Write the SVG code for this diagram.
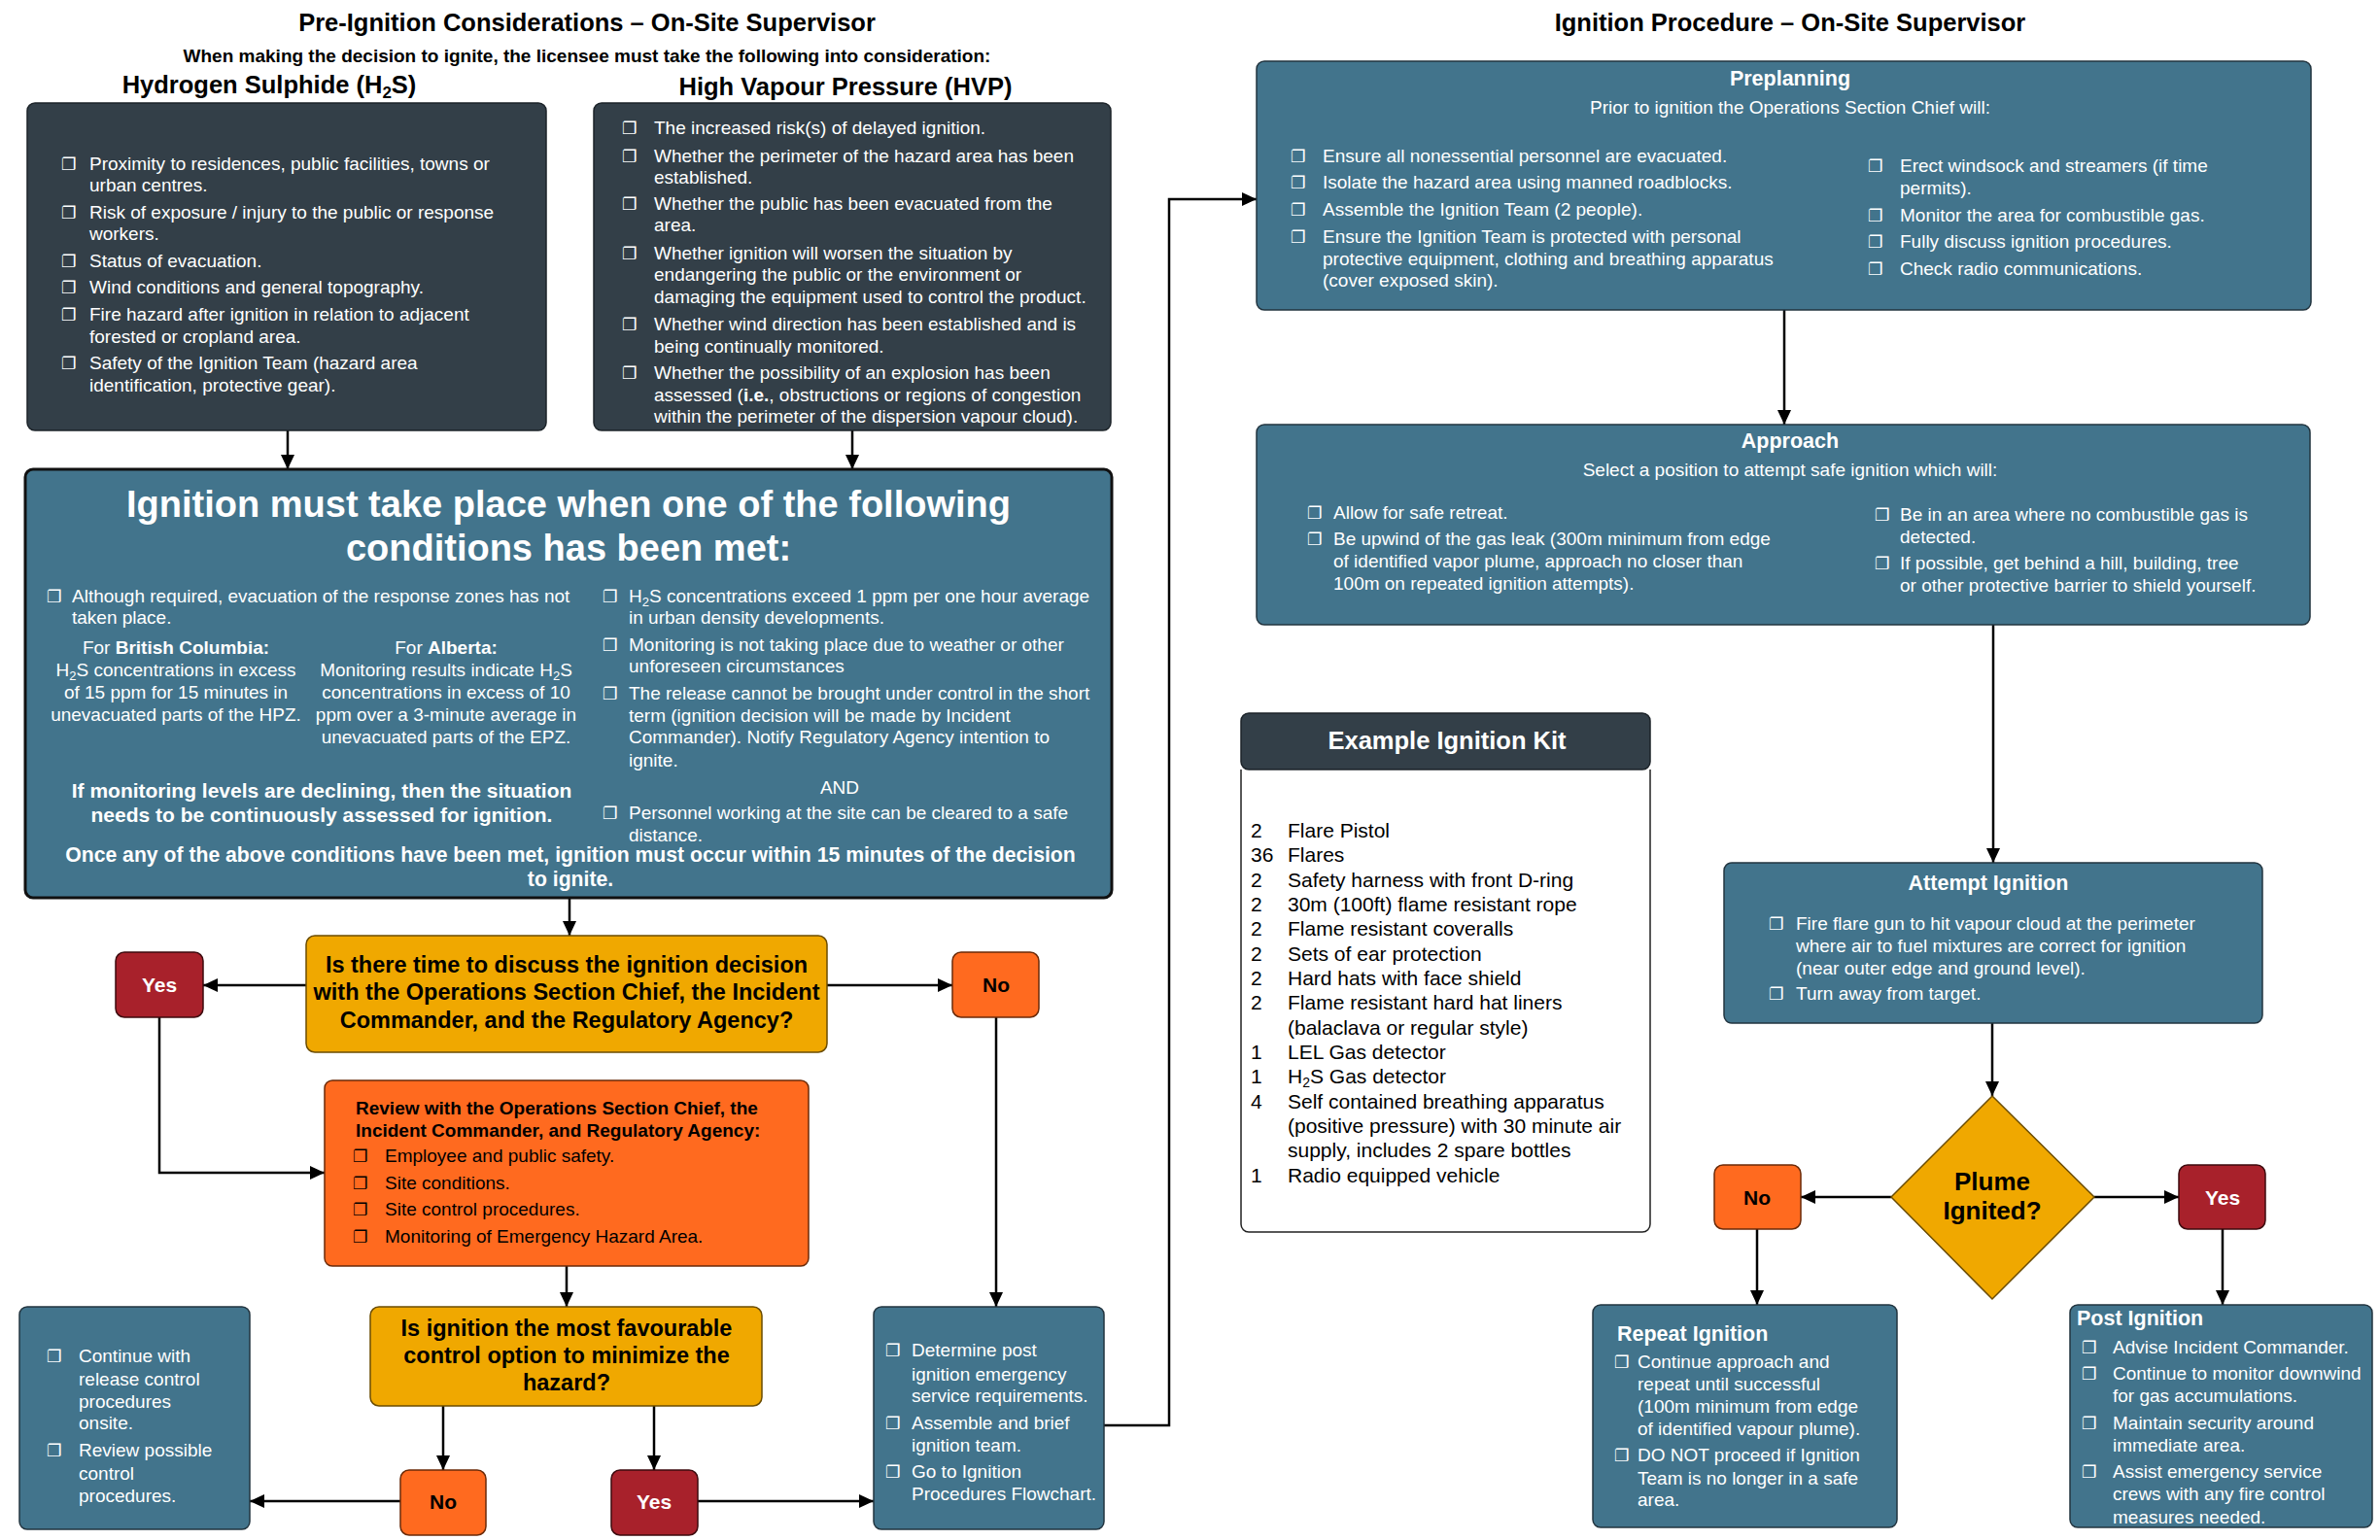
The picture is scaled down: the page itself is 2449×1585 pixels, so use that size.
<svg xmlns="http://www.w3.org/2000/svg" width="2449" height="1585" viewBox="0 0 2449 1585">
<style>
text { font-family: "Liberation Sans", Arial, sans-serif; font-size: 19px; fill: #000; }
.b { font-weight: bold; }
.w { fill: #fff; }
.m { text-anchor: middle; }
text.cb { font-family: "DejaVu Sans", sans-serif; font-size: 17px; }
text.title { font-size: 25.5px; font-weight: bold; }
text.head { font-size: 38px; font-weight: bold; }
text.b21 { font-size: 21px; font-weight: bold; }
text.once { font-size: 21.2px; font-weight: bold; }
text.plume { font-size: 26px; font-weight: bold; }
text.sh { font-size: 21.5px; font-weight: bold; }
text.dec { font-size: 23.5px; font-weight: bold; }
text.yn { font-size: 21px; font-weight: bold; }
text.kit { font-size: 21px; }
.dark { fill: #333f48; stroke: #1c2329; stroke-width: 1.5; }
.blue { fill: #42748c; stroke: #22343f; stroke-width: 1.5; }
.yel { fill: #f0a800; stroke: #6b4c00; stroke-width: 1.5; }
.ora { fill: #ff6a1f; stroke: #6b2a08; stroke-width: 1.5; }
.red { fill: #a8212b; stroke: #3d0a0e; stroke-width: 1.5; }
.c { fill: none; stroke: #000; stroke-width: 2.5; marker-end: url(#ah); }
</style>
<defs>
<marker id="ah" markerUnits="userSpaceOnUse" markerWidth="16" markerHeight="14" refX="15" refY="7" orient="auto">
<path d="M0,0 L15,7 L0,14 z" fill="#000"/>
</marker>
</defs>
<rect width="2449" height="1585" fill="#fff"/>

<g id="titles">
<text class="title m" x="604" y="32">Pre-Ignition Considerations – On-Site Supervisor</text>
<text class="b m" x="604" y="64">When making the decision to ignite, the licensee must take the following into consideration:</text>
<text class="title m" x="277" y="96">Hydrogen Sulphide (H<tspan font-size="17" dy="5">2</tspan><tspan dy="-5">S)</tspan></text>
<text class="title m" x="870" y="98">High Vapour Pressure (HVP)</text>
<text class="title m" x="1842" y="32">Ignition Procedure – On-Site Supervisor</text>
</g>

<g id="connectors">
<path class="c" d="M296,443 V483"/>
<path class="c" d="M877,443 V483"/>
<path class="c" d="M586,924 V963"/>
<path class="c" d="M315,1014 H209"/>
<path class="c" d="M851,1014 H980"/>
<path class="c" d="M164,1047 V1207 H334"/>
<path class="c" d="M1025,1047 V1345"/>
<path class="c" d="M583,1303 V1345"/>
<path class="c" d="M456,1447 V1513"/>
<path class="c" d="M673,1447 V1513"/>
<path class="c" d="M412,1545 H257"/>
<path class="c" d="M718,1545 H899"/>
<path class="c" d="M1136,1467 H1203 V205 H1293"/>
<path class="c" d="M1836,319 V437"/>
<path class="c" d="M2051,643 V888"/>
<path class="c" d="M2050,1053 V1128"/>
<path class="c" d="M1946,1232 H1853"/>
<path class="c" d="M2155,1232 H2242"/>
<path class="c" d="M1808,1265 V1343"/>
<path class="c" d="M2287,1265 V1343"/>
</g>

<g id="h2s-box">
<rect class="dark" x="28" y="106" width="534" height="337" rx="8"/>
<text class="cb w" x="63" y="175">❐</text>
<text class="w" x="92" y="175">Proximity to residences, public facilities, towns or</text>
<text class="w" x="92" y="197">urban centres.</text>
<text class="cb w" x="63" y="225">❐</text>
<text class="w" x="92" y="225">Risk of exposure / injury to the public or response</text>
<text class="w" x="92" y="247">workers.</text>
<text class="cb w" x="63" y="275">❐</text>
<text class="w" x="92" y="275">Status of evacuation.</text>
<text class="cb w" x="63" y="302">❐</text>
<text class="w" x="92" y="302">Wind conditions and general topography.</text>
<text class="cb w" x="63" y="330">❐</text>
<text class="w" x="92" y="330">Fire hazard after ignition in relation to adjacent</text>
<text class="w" x="92" y="353">forested or cropland area.</text>
<text class="cb w" x="63" y="380">❐</text>
<text class="w" x="92" y="380">Safety of the Ignition Team (hazard area</text>
<text class="w" x="92" y="403">identification, protective gear).</text>
</g>

<g id="hvp-box">
<rect class="dark" x="611" y="106" width="532" height="337" rx="8"/>
<text class="cb w" x="640" y="138">❐</text>
<text class="w" x="673" y="138">The increased risk(s) of delayed ignition.</text>
<text class="cb w" x="640" y="167">❐</text>
<text class="w" x="673" y="167">Whether the perimeter of the hazard area has been</text>
<text class="w" x="673" y="189">established.</text>
<text class="cb w" x="640" y="216">❐</text>
<text class="w" x="673" y="216">Whether the public has been evacuated from the</text>
<text class="w" x="673" y="238">area.</text>
<text class="cb w" x="640" y="267">❐</text>
<text class="w" x="673" y="267">Whether ignition will worsen the situation by</text>
<text class="w" x="673" y="289">endangering the public or the environment or</text>
<text class="w" x="673" y="312">damaging the equipment used to control the product.</text>
<text class="cb w" x="640" y="340">❐</text>
<text class="w" x="673" y="340">Whether wind direction has been established and is</text>
<text class="w" x="673" y="363">being continually monitored.</text>
<text class="cb w" x="640" y="390">❐</text>
<text class="w" x="673" y="390">Whether the possibility of an explosion has been</text>
<text class="w" x="673" y="413">assessed (<tspan font-weight="bold">i.e.</tspan>, obstructions or regions of congestion</text>
<text class="w" x="673" y="435">within the perimeter of the dispersion vapour cloud).</text>
</g>

<g id="conditions-box">
<rect x="26" y="483" width="1118" height="441" rx="8" fill="#42748c" stroke="#111" stroke-width="3"/>
<text class="head w m" x="585" y="532">Ignition must take place when one of the following</text>
<text class="head w m" x="585" y="577">conditions has been met:</text>
<text class="cb w" x="48" y="620">❐</text>
<text class="w" x="74" y="620">Although required, evacuation of the response zones has not</text>
<text class="w" x="74" y="642">taken place.</text>
<text class="w m" x="181" y="673">For <tspan font-weight="bold">British Columbia:</tspan></text>
<text class="w m" x="181" y="696">H<tspan font-size="13" dy="4">2</tspan><tspan dy="-4">S concentrations in excess</tspan></text>
<text class="w m" x="181" y="719">of 15 ppm for 15 minutes in</text>
<text class="w m" x="181" y="742">unevacuated parts of the HPZ.</text>
<text class="w m" x="459" y="673">For <tspan font-weight="bold">Alberta:</tspan></text>
<text class="w m" x="459" y="696">Monitoring results indicate H<tspan font-size="13" dy="4">2</tspan><tspan dy="-4">S</tspan></text>
<text class="w m" x="459" y="719">concentrations in excess of 10</text>
<text class="w m" x="459" y="742">ppm over a 3-minute average in</text>
<text class="w m" x="459" y="765">unevacuated parts of the EPZ.</text>
<text class="b21 w m" x="331" y="821">If monitoring levels are declining, then the situation</text>
<text class="b21 w m" x="331" y="846">needs  to be continuously assessed for ignition.</text>
<text class="cb w" x="620" y="620">❐</text>
<text class="w" x="647" y="620">H<tspan font-size="13" dy="4">2</tspan><tspan dy="-4">S concentrations exceed 1 ppm per one hour average</tspan></text>
<text class="w" x="647" y="642">in urban density developments.</text>
<text class="cb w" x="620" y="670">❐</text>
<text class="w" x="647" y="670">Monitoring is not taking place due to weather or other</text>
<text class="w" x="647" y="692">unforeseen circumstances</text>
<text class="cb w" x="620" y="720">❐</text>
<text class="w" x="647" y="720">The release cannot be brought under control in the short</text>
<text class="w" x="647" y="743">term (ignition decision will be made by Incident</text>
<text class="w" x="647" y="765">Commander). Notify Regulatory Agency intention to</text>
<text class="w" x="647" y="789">ignite.</text>
<text class="w m" x="864" y="817">AND</text>
<text class="cb w" x="620" y="843">❐</text>
<text class="w" x="647" y="843">Personnel working at the site can be cleared to a safe</text>
<text class="w" x="647" y="866">distance.</text>
<text class="once w m" x="587" y="887">Once any of the above conditions have been met, ignition must occur within 15 minutes of the decision</text>
<text class="once w m" x="587" y="912">to ignite.</text>
</g>

<g id="decision-discuss">
<rect class="yel" x="315" y="963" width="536" height="120" rx="9"/>
<text class="dec m" x="583" y="1001">Is there time to discuss the ignition decision</text>
<text class="dec m" x="583" y="1029">with the Operations Section Chief, the Incident</text>
<text class="dec m" x="583" y="1058">Commander, and the Regulatory Agency?</text>
</g>

<g id="yes-1">
<rect class="red" x="119" y="980" width="90" height="67" rx="9"/>
<text class="yn w m" x="164" y="1021">Yes</text>
</g>

<g id="no-1">
<rect class="ora" x="980" y="980" width="89" height="67" rx="9"/>
<text class="yn m" x="1025" y="1021">No</text>
</g>

<g id="review-box">
<rect class="ora" x="334" y="1112" width="498" height="191" rx="8"/>
<text class="b" x="366" y="1147">Review with the Operations Section Chief, the</text>
<text class="b" x="366" y="1170">Incident Commander, and Regulatory Agency:</text>
<text class="cb" x="363" y="1196">❐</text>
<text x="396" y="1196">Employee and public safety.</text>
<text class="cb" x="363" y="1224">❐</text>
<text x="396" y="1224">Site conditions.</text>
<text class="cb" x="363" y="1251">❐</text>
<text x="396" y="1251">Site control procedures.</text>
<text class="cb" x="363" y="1279">❐</text>
<text x="396" y="1279">Monitoring of Emergency Hazard Area.</text>
</g>

<g id="decision-favourable">
<rect class="yel" x="381" y="1345" width="403" height="102" rx="9"/>
<text class="dec m" x="583" y="1375">Is ignition the most favourable</text>
<text class="dec m" x="583" y="1403">control option to minimize the</text>
<text class="dec m" x="583" y="1431">hazard?</text>
</g>

<g id="no-2">
<rect class="ora" x="412" y="1513" width="88" height="67" rx="9"/>
<text class="yn m" x="456" y="1553">No</text>
</g>

<g id="yes-2">
<rect class="red" x="629" y="1513" width="89" height="67" rx="9"/>
<text class="yn w m" x="673" y="1553">Yes</text>
</g>

<g id="continue-box">
<rect class="blue" x="20" y="1345" width="237" height="229" rx="8"/>
<text class="cb w" x="48" y="1402">❐</text>
<text class="w" x="81" y="1402">Continue with</text>
<text class="w" x="81" y="1426">release control</text>
<text class="w" x="81" y="1449">procedures</text>
<text class="w" x="81" y="1471">onsite.</text>
<text class="cb w" x="48" y="1499">❐</text>
<text class="w" x="81" y="1499">Review possible</text>
<text class="w" x="81" y="1523">control</text>
<text class="w" x="81" y="1546">procedures.</text>
</g>

<g id="determine-box">
<rect class="blue" x="899" y="1345" width="237" height="229" rx="8"/>
<text class="cb w" x="911" y="1396">❐</text>
<text class="w" x="938" y="1396">Determine post</text>
<text class="w" x="938" y="1421">ignition emergency</text>
<text class="w" x="938" y="1443">service requirements.</text>
<text class="cb w" x="911" y="1471">❐</text>
<text class="w" x="938" y="1471">Assemble and brief</text>
<text class="w" x="938" y="1494">ignition team.</text>
<text class="cb w" x="911" y="1521">❐</text>
<text class="w" x="938" y="1521">Go to Ignition</text>
<text class="w" x="938" y="1544">Procedures Flowchart.</text>
</g>

<g id="preplanning">
<rect class="blue" x="1293" y="63" width="1085" height="256" rx="8"/>
<text class="sh w m" x="1842" y="88">Preplanning</text>
<text class="w m" x="1842" y="117">Prior to ignition the Operations Section Chief will:</text>
<text class="cb w" x="1328" y="167">❐</text>
<text class="w" x="1361" y="167">Ensure all nonessential personnel are evacuated.</text>
<text class="cb w" x="1328" y="194">❐</text>
<text class="w" x="1361" y="194">Isolate the hazard area using manned roadblocks.</text>
<text class="cb w" x="1328" y="222">❐</text>
<text class="w" x="1361" y="222">Assemble the Ignition Team (2 people).</text>
<text class="cb w" x="1328" y="250">❐</text>
<text class="w" x="1361" y="250">Ensure the Ignition Team is protected with personal</text>
<text class="w" x="1361" y="273">protective equipment, clothing and breathing apparatus</text>
<text class="w" x="1361" y="295">(cover exposed skin).</text>
<text class="cb w" x="1922" y="177">❐</text>
<text class="w" x="1955" y="177">Erect windsock and streamers (if time</text>
<text class="w" x="1955" y="200">permits).</text>
<text class="cb w" x="1922" y="228">❐</text>
<text class="w" x="1955" y="228">Monitor the area for combustible gas.</text>
<text class="cb w" x="1922" y="255">❐</text>
<text class="w" x="1955" y="255">Fully discuss ignition procedures.</text>
<text class="cb w" x="1922" y="283">❐</text>
<text class="w" x="1955" y="283">Check radio communications.</text>
</g>

<g id="approach">
<rect class="blue" x="1293" y="437" width="1084" height="206" rx="8"/>
<text class="sh w m" x="1842" y="461">Approach</text>
<text class="w m" x="1842" y="490">Select a position to attempt safe ignition which will:</text>
<text class="cb w" x="1345" y="534">❐</text>
<text class="w" x="1372" y="534">Allow for safe retreat.</text>
<text class="cb w" x="1345" y="561">❐</text>
<text class="w" x="1372" y="561">Be upwind of the gas leak (300m minimum from edge</text>
<text class="w" x="1372" y="584">of identified vapor plume, approach no closer than</text>
<text class="w" x="1372" y="607">100m on repeated ignition attempts).</text>
<text class="cb w" x="1929" y="536">❐</text>
<text class="w" x="1955" y="536">Be in an area where no combustible gas is</text>
<text class="w" x="1955" y="559">detected.</text>
<text class="cb w" x="1929" y="586">❐</text>
<text class="w" x="1955" y="586">If possible, get behind a hill, building, tree</text>
<text class="w" x="1955" y="609">or other protective barrier to shield yourself.</text>
</g>

<g id="ignition-kit">
<path d="M1277,792 V1260 a8,8 0 0 0 8,8 H1690 a8,8 0 0 0 8,-8 V792" fill="#fff" stroke="#222" stroke-width="1.5"/>
<rect class="dark" x="1277" y="734" width="421" height="58" rx="8"/>
<text class="title w m" x="1489" y="771">Example Ignition Kit</text>
<text class="kit" x="1287" y="862">2</text><text class="kit" x="1325" y="862">Flare Pistol</text>
<text class="kit" x="1287" y="887">36</text><text class="kit" x="1325" y="887">Flares</text>
<text class="kit" x="1287" y="913">2</text><text class="kit" x="1325" y="913">Safety harness with front D-ring</text>
<text class="kit" x="1287" y="938">2</text><text class="kit" x="1325" y="938">30m (100ft) flame resistant rope</text>
<text class="kit" x="1287" y="963">2</text><text class="kit" x="1325" y="963">Flame resistant coveralls</text>
<text class="kit" x="1287" y="989">2</text><text class="kit" x="1325" y="989">Sets of ear protection</text>
<text class="kit" x="1287" y="1014">2</text><text class="kit" x="1325" y="1014">Hard hats with face shield</text>
<text class="kit" x="1287" y="1039">2</text><text class="kit" x="1325" y="1039">Flame resistant hard hat liners</text>
<text class="kit" x="1325" y="1065">(balaclava or regular style)</text>
<text class="kit" x="1287" y="1090">1</text><text class="kit" x="1325" y="1090">LEL Gas detector</text>
<text class="kit" x="1287" y="1115">1</text><text class="kit" x="1325" y="1115">H<tspan font-size="14" dy="4">2</tspan><tspan dy="-4">S Gas detector</tspan></text>
<text class="kit" x="1287" y="1141">4</text><text class="kit" x="1325" y="1141">Self contained breathing apparatus</text>
<text class="kit" x="1325" y="1166">(positive pressure) with 30 minute air</text>
<text class="kit" x="1325" y="1191">supply, includes 2 spare bottles</text>
<text class="kit" x="1287" y="1217">1</text><text class="kit" x="1325" y="1217">Radio equipped vehicle</text>
</g>

<g id="attempt-ignition">
<rect class="blue" x="1774" y="888" width="554" height="165" rx="8"/>
<text class="sh w m" x="2046" y="916">Attempt Ignition</text>
<text class="cb w" x="1820" y="957">❐</text>
<text class="w" x="1848" y="957">Fire flare gun to hit vapour cloud at the perimeter</text>
<text class="w" x="1848" y="980">where air to fuel mixtures are correct for ignition</text>
<text class="w" x="1848" y="1003">(near outer edge and ground level).</text>
<text class="cb w" x="1820" y="1029">❐</text>
<text class="w" x="1848" y="1029">Turn away from target.</text>
</g>

<g id="plume-ignited">
<polygon class="yel" points="2050,1128 2155,1232 2050,1337 1946,1232"/>
<text class="plume m" x="2050" y="1225">Plume</text>
<text class="plume m" x="2050" y="1255">Ignited?</text>
</g>

<g id="no-3">
<rect class="ora" x="1764" y="1199" width="89" height="66" rx="9"/>
<text class="yn m" x="1808" y="1240">No</text>
</g>

<g id="yes-3">
<rect class="red" x="2242" y="1199" width="89" height="66" rx="9"/>
<text class="yn w m" x="2287" y="1240">Yes</text>
</g>

<g id="repeat-ignition">
<rect class="blue" x="1639" y="1343" width="313" height="229" rx="8"/>
<text class="sh w" x="1664" y="1380">Repeat Ignition</text>
<text class="cb w" x="1661" y="1408">❐</text>
<text class="w" x="1685" y="1408">Continue approach and</text>
<text class="w" x="1685" y="1431">repeat until successful</text>
<text class="w" x="1685" y="1454">(100m minimum from edge</text>
<text class="w" x="1685" y="1477">of identified vapour plume).</text>
<text class="cb w" x="1661" y="1504">❐</text>
<text class="w" x="1685" y="1504">DO NOT proceed if Ignition</text>
<text class="w" x="1685" y="1528">Team is no longer in a safe</text>
<text class="w" x="1685" y="1550">area.</text>
</g>

<g id="post-ignition">
<rect class="blue" x="2130" y="1343" width="311" height="229" rx="8"/>
<text class="sh w" x="2137" y="1364">Post Ignition</text>
<text class="cb w" x="2142" y="1393">❐</text>
<text class="w" x="2174" y="1393">Advise Incident Commander.</text>
<text class="cb w" x="2142" y="1420">❐</text>
<text class="w" x="2174" y="1420">Continue to monitor downwind</text>
<text class="w" x="2174" y="1443">for gas accumulations.</text>
<text class="cb w" x="2142" y="1471">❐</text>
<text class="w" x="2174" y="1471">Maintain security around</text>
<text class="w" x="2174" y="1494">immediate area.</text>
<text class="cb w" x="2142" y="1521">❐</text>
<text class="w" x="2174" y="1521">Assist emergency service</text>
<text class="w" x="2174" y="1544">crews with any fire control</text>
<text class="w" x="2174" y="1568">measures needed.</text>
</g>
</svg>
